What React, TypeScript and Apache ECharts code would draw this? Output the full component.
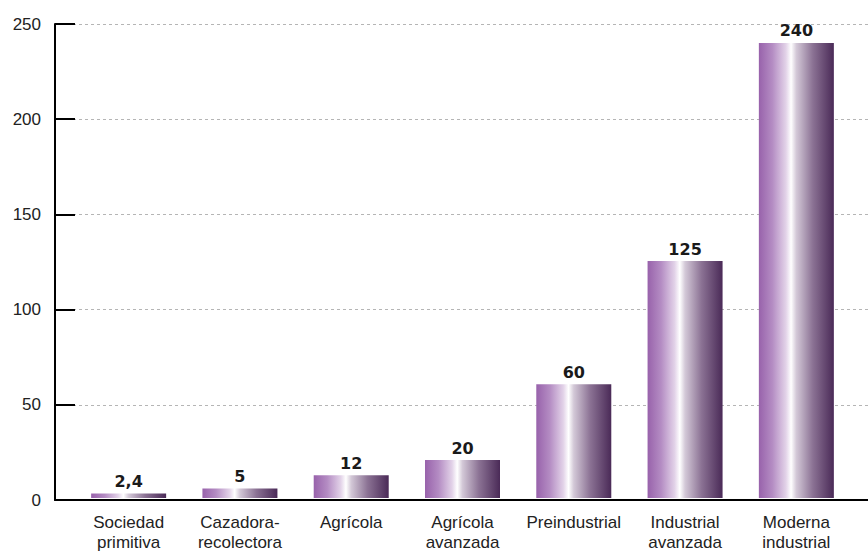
import React, { useEffect, useRef } from "react";
import * as echarts from "echarts";

const categories = [
  "Sociedad\nprimitiva",
  "Cazadora-\nrecolectora",
  "Agrícola",
  "Agrícola\navanzada",
  "Preindustrial",
  "Industrial\navanzada",
  "Moderna\nindustrial",
];
const values = [2.4, 5, 12, 20, 60, 125, 240];
const valueLabels = ["2,4", "5", "12", "20", "60", "125", "240"];

const Y_MIN = 0;
const Y_MAX = 250;
const Y_INTERVAL = 50;

export default function App() {
  const ref = useRef<HTMLDivElement>(null);
  useEffect(() => {
    if (!ref.current) return;
    const chart = echarts.init(ref.current, undefined, { renderer: "svg" });
    const font = "'Liberation Sans', Arial, Helvetica, sans-serif";
    const boldFont = "'DejaVu Sans', 'Liberation Sans', Arial, sans-serif";
    const gradient = new echarts.graphic.LinearGradient(0, 0, 1, 0, [
      { offset: 0, color: "#9862ab" },
      { offset: 0.18, color: "#b48cc3" },
      { offset: 0.36, color: "#e2d2e8" },
      { offset: 0.43, color: "#ffffff" },
      { offset: 0.5, color: "#d3c8d7" },
      { offset: 0.72, color: "#8b7294" },
      { offset: 1, color: "#4a2a57" },
    ]);
    chart.setOption({
      animation: false,
      textStyle: { fontFamily: font },
      grid: [
        { left: 55, right: 0, top: 24, bottom: 52, containLabel: false },
        { left: 73, right: 16, top: 24, bottom: 52, containLabel: false },
      ],
      xAxis: [
        {
          gridIndex: 0,
          type: "category",
          data: [""],
          axisLine: { show: true, lineStyle: { color: "#000", width: 2 } },
          axisTick: { show: false },
          axisLabel: { show: false },
          splitLine: { show: false },
        },
        {
          gridIndex: 1,
          type: "category",
          data: categories,
          axisLine: { show: false },
          axisTick: { show: false },
          axisLabel: {
            color: "#222",
            fontSize: 17,
            lineHeight: 20,
            margin: 14,
            interval: 0,
            fontFamily: font,
          },
        },
      ],
      yAxis: [
        {
          gridIndex: 0,
          type: "value",
          min: Y_MIN,
          max: Y_MAX,
          interval: Y_INTERVAL,
          axisLine: { show: true, lineStyle: { color: "#000", width: 2 } },
          axisTick: { show: true, inside: true, length: 20, lineStyle: { color: "#000", width: 2 } },
          axisLabel: {
            color: "#222",
            fontSize: 17,
            margin: 14,
            fontFamily: font,
            padding: [0, 0, 6, 0],
          },
          splitLine: { show: true, lineStyle: { color: "#b5b5b5", type: [3, 3], width: 1 } },
        },
        {
          gridIndex: 1,
          type: "value",
          min: Y_MIN,
          max: Y_MAX,
          interval: Y_INTERVAL,
          show: false,
          splitLine: { show: false },
        },
      ],
      series: [
        {
          type: "bar",
          xAxisIndex: 1,
          yAxisIndex: 1,
          data: values,
          barWidth: 75,
          itemStyle: { color: gradient },
          label: {
            show: true,
            position: "top",
            distance: 4,
            color: "#1a1a1a",
            fontSize: 16,
            fontWeight: "bold",
            fontFamily: boldFont,
            formatter: (p: any) => valueLabels[p.dataIndex],
          },
        },
      ],
    });
    return () => chart.dispose();
  }, []);
  return <div ref={ref} style={{ width: 868, height: 552, position: "absolute", left: 0, top: 0 }} />;
}
